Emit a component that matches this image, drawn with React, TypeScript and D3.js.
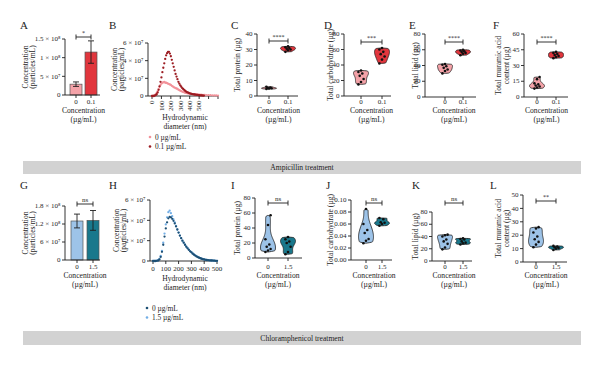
import React from "react";
import * as d3 from "d3";

const FONT = "'Liberation Serif', 'Times New Roman', serif";
const INK = "#1e1e1e";

// categories (µg/mL)
const ampDoses = ["0", "0.1"];
const chlDoses = ["0", "1.5"];

// A / G: particle concentration, mean and error
const ampParticleMean = [2.9e7, 1.15e8];
const ampParticleErr = [0.6e7, 0.3e8];
const chlParticleMean = [1.3e8, 1.32e8];
const chlParticleErr = [0.23e8, 0.33e8];
const ampParticleTicks = [0, 5e7, 1e8, 1.5e8];
const ampParticleTickText = ["0", "5 × 10⁷", "1 × 10⁸", "1.5 × 10⁸"];
const chlParticleTicks = [0, 6e7, 1.2e8, 1.8e8];
const chlParticleTickText = ["0", "6 × 10⁷", "1.2 × 10⁸", "1.8 × 10⁸"];

// B / H: size distribution, in 10^7 particles/mL
const sizeTicks = [0, 2, 4, 6];
const sizeTickText = ["0", "2 × 10⁷", "4 × 10⁷", "6 × 10⁷"];
const ampDiamHigh = [0, 10, 20, 30, 40, 50, 60, 70, 80, 90, 100, 110, 120, 130, 140, 150, 160, 170, 180, 190, 200, 210, 220, 230, 240, 250, 260, 270, 280, 290, 300, 310, 320, 330, 340, 350, 360, 370, 380, 390, 400, 410, 420, 430, 440, 450, 460, 470, 480, 490, 500, 510, 520, 530, 540, 550];
const ampConcHigh = [0, 0, 0, 0.05, 0.1, 0.2, 0.4, 0.7, 1.1, 1.6, 2.1, 2.7, 3.2, 3.7, 4.2, 4.6, 4.85, 5.0, 5.0, 4.8, 4.5, 4.1, 3.7, 3.3, 2.9, 2.5, 2.2, 1.9, 1.6, 1.4, 1.2, 1.05, 0.9, 0.8, 0.7, 0.6, 0.52, 0.45, 0.4, 0.35, 0.3, 0.27, 0.24, 0.21, 0.19, 0.17, 0.15, 0.13, 0.12, 0.1, 0.09, 0.08, 0.07, 0.06, 0.05, 0.04];
const ampDiamLow = [0, 10, 20, 30, 40, 50, 60, 70, 80, 90, 100, 110, 120, 130, 140, 150, 160, 170, 180, 190, 200, 210, 220, 230, 240, 250, 260, 270, 280, 290, 300, 310, 320, 330, 340, 350, 360, 370, 380, 390, 400, 410, 420, 430, 440, 450, 460, 470, 480, 490, 500, 520, 540, 560, 580, 600, 620, 640, 660, 680, 700];
const ampConcLow = [0, 0, 0.05, 0.1, 0.2, 0.35, 0.55, 0.8, 1.05, 1.25, 1.4, 1.5, 1.55, 1.6, 1.5, 1.5, 1.45, 1.4, 1.35, 1.3, 1.25, 1.15, 1.1, 1.0, 0.95, 0.9, 0.85, 0.8, 0.72, 0.66, 0.6, 0.55, 0.5, 0.46, 0.42, 0.38, 0.35, 0.32, 0.3, 0.28, 0.26, 0.24, 0.23, 0.22, 0.21, 0.2, 0.19, 0.18, 0.17, 0.16, 0.15, 0.14, 0.13, 0.12, 0.11, 0.1, 0.09, 0.08, 0.07, 0.06, 0.05];
const chlDiam = [0, 10, 20, 30, 40, 50, 60, 70, 80, 90, 100, 110, 120, 130, 140, 150, 160, 170, 180, 190, 200, 210, 220, 230, 240, 250, 260, 270, 280, 290, 300, 310, 320, 330, 340, 350, 360, 370, 380, 390, 400, 410, 420, 430, 440, 450, 460, 470, 480, 490, 500];
const chlConcZero = [0, 0, 0, 0.02, 0.05, 0.15, 0.4, 0.9, 1.6, 2.4, 3.2, 3.8, 4.2, 4.35, 4.3, 4.15, 3.95, 3.7, 3.4, 3.1, 2.8, 2.5, 2.25, 2.0, 1.8, 1.6, 1.4, 1.25, 1.1, 0.95, 0.85, 0.72, 0.62, 0.53, 0.45, 0.38, 0.32, 0.27, 0.22, 0.18, 0.15, 0.12, 0.1, 0.08, 0.07, 0.06, 0.05, 0.04, 0.03, 0.02, 0.02];
const chlConcDose = [0, 0, 0, 0.03, 0.08, 0.2, 0.5, 1.0, 1.8, 2.7, 3.6, 4.3, 4.8, 4.95, 4.7, 4.4, 4.1, 3.8, 3.45, 3.1, 2.8, 2.5, 2.25, 2.0, 1.8, 1.6, 1.42, 1.27, 1.12, 0.98, 0.86, 0.74, 0.64, 0.55, 0.47, 0.4, 0.34, 0.28, 0.23, 0.19, 0.16, 0.13, 0.11, 0.09, 0.07, 0.06, 0.05, 0.04, 0.03, 0.02, 0.02];

// C-F, I-L: replicate measurements (µg)
const ampProtein0 = [4.5, 4.8, 5.0, 5.2, 5.5, 6.0];
const ampProtein1 = [28.5, 29.5, 30.0, 30.5, 31.0, 31.5, 32.0];
const ampCarb0 = [15, 18, 22, 26, 29, 31, 33];
const ampCarb1 = [42, 47, 51, 54, 57, 60, 62];
const ampLipid0 = [30, 33, 35, 37, 39, 41, 42];
const ampLipid1 = [53, 55, 56, 57, 58, 59, 60];
const ampMuramic0 = [8, 9, 10, 11, 12, 13, 17, 19];
const ampMuramic1 = [37, 38, 39, 40, 41, 42, 43];
const chlProtein0 = [8, 10, 12, 15, 18, 25, 44, 57];
const chlProtein1 = [5, 8, 15, 20, 22, 25, 28];
const chlCarb0 = [0.028, 0.032, 0.035, 0.045, 0.05, 0.06, 0.085];
const chlCarb1 = [0.057, 0.06, 0.062, 0.063, 0.068, 0.07];
const chlLipid0 = [19, 22, 28, 32, 35, 40, 42, 43];
const chlLipid1 = [27, 29, 30, 32, 35, 36, 37];
const chlMuramic0 = [11, 13, 15, 17, 19, 22, 25, 26];
const chlMuramic1 = [9, 10, 10.5, 11, 11.5, 12];

const ampLight = "#f4a2a8";
const ampDark = "#e1363d";
const chlLight = "#9dc3e8";
const chlDark = "#19788c";

const TOP = { tickY: 104, t1: 113, t2: 122, letterY: 29 };
const BOT = { tickY: 269, t1: 278, t2: 287, letterY: 189 };

function YAxis({ x, scale, ticks, labels }: any) {
  const [y0, y1] = scale.range();
  return (
    <g>
      <line x1={x} x2={x} y1={y0} y2={y1} stroke={INK} strokeWidth={0.9} />
      {ticks.map((t: number, i: number) => (
        <g key={i}>
          <line x1={x - 3} x2={x} y1={scale(t)} y2={scale(t)} stroke={INK} strokeWidth={0.9} />
          <text x={x - 4.5} y={scale(t)} dy="0.32em" textAnchor="end" fontSize={7} fill={INK}>
            {labels[i]}
          </text>
        </g>
      ))}
    </g>
  );
}

function YTitle({ xs, cy, lines }: any) {
  return (
    <g>
      {lines.map((l: string, i: number) => (
        <text key={i} transform={`translate(${xs[i]},${cy}) rotate(-90)`} dy="0.35em" textAnchor="middle" fontSize={7.6} fill={INK}>
          {l}
        </text>
      ))}
    </g>
  );
}

function XTitle({ cx, ys, lines }: any) {
  return (
    <g>
      {lines.map((l: string, i: number) => (
        <text key={i} x={cx} y={ys[i]} textAnchor="middle" fontSize={7.6} fill={INK}>
          {l}
        </text>
      ))}
    </g>
  );
}

function Bracket({ x1, x2, y, label }: any) {
  return (
    <g stroke={INK} strokeWidth={0.9}>
      <line x1={x1} x2={x2} y1={y} y2={y} />
      <line x1={x1} x2={x1} y1={y - 2.5} y2={y + 2.5} />
      <line x1={x2} x2={x2} y1={y - 2.5} y2={y + 2.5} />
      <text x={(x1 + x2) / 2} y={y - 2} textAnchor="middle" fontSize={label === "ns" ? 7 : 6} stroke="none" fill={INK}>
        {label}
      </text>
    </g>
  );
}

function CatAxis({ x0, x1, base, x, cats, row }: any) {
  return (
    <g>
      <line x1={x0} x2={x1} y1={base} y2={base} stroke={INK} strokeWidth={0.9} />
      {cats.map((c: string) => (
        <g key={c}>
          <line x1={x(c)} x2={x(c)} y1={base} y2={base + 3} stroke={INK} strokeWidth={0.9} />
          <text x={x(c)} y={row.tickY} textAnchor="middle" fontSize={7} fill={INK}>
            {c}
          </text>
        </g>
      ))}
      <XTitle cx={(x(cats[0]) + x(cats[1])) / 2} ys={[row.t1, row.t2]} lines={["Concentration", "(µg/mL)"]} />
    </g>
  );
}

// kernel density outline of one group, closed at its min and max
function violinShape(vals: number[], n = 36) {
  const lo = d3.min(vals) as number;
  const hi = d3.max(vals) as number;
  const span = hi - lo || 1;
  const bw = span * 0.2;
  const inner = d3.range(1, n).map((i) => lo + (span * i) / n);
  const dens = inner.map((v) => d3.sum(vals, (d) => Math.exp(-0.5 * ((v - d) / bw) ** 2)));
  const m = d3.max(dens) as number;
  return [{ v: lo, w: 0 }, ...inner.map((v, i) => ({ v, w: dens[i] / m })), { v: hi, w: 0 }];
}

function ViolinPanel({ p }: any) {
  const row = p.row;
  const y = d3.scaleLinear().domain(p.domain).range(p.yRange);
  const x = d3.scalePoint<string>().domain(p.cats).range(p.catRange);
  const half = 7.5;
  return (
    <g>
      <text x={p.lx} y={row.letterY} fontSize={11} fill={INK}>{p.letter}</text>
      <YAxis x={p.axisX} scale={y} ticks={p.ticks} labels={p.ticks.map(p.fmt)} />
      <YTitle xs={p.titleX} cy={(p.yRange[0] + p.yRange[1]) / 2} lines={p.title} />
      <CatAxis x0={p.axisX} x1={p.axisEnd} base={p.yRange[0]} x={x} cats={p.cats} row={row} />
      {p.groups.map((vals: number[], gi: number) => {
        const cx = x(p.cats[gi]) as number;
        const shape = violinShape(vals);
        const area = d3
          .area<any>()
          .y((d) => y(d.v))
          .x0((d) => cx - d.w * half)
          .x1((d) => cx + d.w * half)
          .curve(d3.curveBasis);
        return (
          <g key={gi}>
            <path d={area(shape) as string} fill={p.fills[gi]} stroke={INK} strokeWidth={0.8} />
            {vals.map((v, i) => (
              <circle key={i} cx={cx + (((i * 7) % 5) - 2) * 1.3} cy={y(v)} r={1.3} fill="#111" />
            ))}
          </g>
        );
      })}
      <Bracket x1={x(p.cats[0])} x2={x(p.cats[1])} y={p.bracketY} label={p.stars} />
    </g>
  );
}

function BarPanel({ p }: any) {
  const row = p.row;
  const y = d3.scaleLinear().domain(p.domain).range(p.yRange);
  const x = d3.scalePoint<string>().domain(p.cats).range(p.catRange);
  const bw = 12;
  return (
    <g>
      <text x={p.lx} y={row.letterY} fontSize={11} fill={INK}>{p.letter}</text>
      <YAxis x={p.axisX} scale={y} ticks={p.ticks} labels={p.tickText} />
      <YTitle xs={[25, 32]} cy={(p.yRange[0] + p.yRange[1]) / 2} lines={["Concentration", "(particles/mL)"]} />
      {p.mean.map((m: number, i: number) => {
        const cx = x(p.cats[i]) as number;
        return (
          <g key={i}>
            <rect x={cx - bw / 2} y={y(m)} width={bw} height={y(0) - y(m)} fill={p.fills[i]} stroke="#555" strokeWidth={0.7} />
            <g stroke={INK} strokeWidth={0.9}>
              <line x1={cx} x2={cx} y1={y(m - p.err[i])} y2={y(m + p.err[i])} />
              <line x1={cx - 3} x2={cx + 3} y1={y(m + p.err[i])} y2={y(m + p.err[i])} />
              <line x1={cx - 3} x2={cx + 3} y1={y(m - p.err[i])} y2={y(m - p.err[i])} />
            </g>
          </g>
        );
      })}
      <CatAxis x0={p.axisX} x1={p.axisEnd} base={p.yRange[0]} x={x} cats={p.cats} row={row} />
      <Bracket x1={x(p.cats[0])} x2={x(p.cats[1])} y={p.bracketY} label={p.stars} />
    </g>
  );
}

function SizePanel({ p }: any) {
  const row = p.row;
  const y = d3.scaleLinear().domain([0, 6]).range(p.yRange);
  const x = d3.scaleLinear().domain(p.xDomain).range(p.xRange);
  const base = p.yRange[0];
  return (
    <g>
      <text x={p.lx} y={row.letterY} fontSize={11} fill={INK}>{p.letter}</text>
      <YAxis x={p.axisX} scale={y} ticks={sizeTicks} labels={sizeTickText} />
      <YTitle xs={[p.axisX - 34, p.axisX - 27]} cy={(p.yRange[0] + p.yRange[1]) / 2} lines={["Concentration", "(particles/mL)"]} />
      <line x1={p.axisX} x2={p.xRange[1]} y1={base} y2={base} stroke={INK} strokeWidth={0.9} />
      {p.xTicks.map((t: number) => (
        <g key={t}>
          <line x1={x(t)} x2={x(t)} y1={base} y2={base + 3} stroke={INK} strokeWidth={0.9} />
          {t <= 500 &&
            (p.rotate ? (
              <text transform={`translate(${x(t)},${base + 4.5}) rotate(-90)`} dy="0.32em" textAnchor="end" fontSize={7} fill={INK}>
                {t}
              </text>
            ) : (
              <text x={x(t)} y={base + 10} textAnchor="middle" fontSize={7} fill={INK}>
                {t}
              </text>
            ))}
        </g>
      ))}
      <XTitle cx={p.titleCx} ys={p.titleYs} lines={["Hydrodynamic", "diameter (nm)"]} />
      {p.series.map((s: any, si: number) => (
        <g key={si}>
          {s.d.map((d: number, i: number) => (
            <circle key={i} cx={x(d)} cy={y(s.v[i])} r={1.15} fill={s.color} />
          ))}
        </g>
      ))}
      {p.legend.map((s: any, i: number) => (
        <g key={i}>
          <circle cx={p.legX} cy={p.legY + i * 9.5} r={1.3} fill={s.color} />
          <text x={p.legX + 5} y={p.legY + i * 9.5} dy="0.35em" fontSize={7.4} fill={INK}>
            {s.label}
          </text>
        </g>
      ))}
    </g>
  );
}

function Band({ y, h, label }: any) {
  return (
    <g>
      <rect x={23} y={y} width={558} height={h} fill="#d2d2d2" />
      <text x={302} y={y + h / 2} dy="0.35em" textAnchor="middle" fontSize={7.6} fill={INK}>
        {label}
      </text>
    </g>
  );
}

const fmtInt = d3.format("d");
const fmt2 = d3.format(".2f");

const barPanels = [
  { letter: "A", lx: 20, row: TOP, cats: ampDoses, mean: ampParticleMean, err: ampParticleErr, fills: [ampLight, ampDark], domain: [0, 1.5e8], ticks: ampParticleTicks, tickText: ampParticleTickText, axisX: 65, axisEnd: 100, catRange: [76, 91], yRange: [95, 39], bracketY: 37, stars: "*" },
  { letter: "G", lx: 20, row: BOT, cats: chlDoses, mean: chlParticleMean, err: chlParticleErr, fills: [chlLight, chlDark], domain: [0, 1.8e8], ticks: chlParticleTicks, tickText: chlParticleTickText, axisX: 65, axisEnd: 100, catRange: [77, 93], yRange: [260, 206], bracketY: 204, stars: "ns" },
];

const sizePanels = [
  {
    letter: "B", lx: 109, row: TOP, axisX: 148, xDomain: [0, 700], xRange: [152, 218], xTicks: [0, 100, 200, 300, 400, 500, 600, 700], rotate: true,
    yRange: [96, 43], titleCx: 185, titleYs: [120, 129], legX: 150, legY: 137,
    series: [{ d: ampDiamLow, v: ampConcLow, color: "#f2929a" }, { d: ampDiamHigh, v: ampConcHigh, color: "#9c1c22" }],
    legend: [{ label: "0 µg/mL", color: "#f2929a" }, { label: "0.1 µg/mL", color: "#9c1c22" }],
  },
  {
    letter: "H", lx: 109, row: BOT, axisX: 150, xDomain: [0, 500], xRange: [153, 217], xTicks: [0, 100, 200, 300, 400, 500], rotate: false,
    yRange: [261, 200], titleCx: 185, titleYs: [281, 290], legX: 147, legY: 308,
    series: [{ d: chlDiam, v: chlConcDose, color: "#72aee6" }, { d: chlDiam, v: chlConcZero, color: "#1d4f73" }],
    legend: [{ label: "0 µg/mL", color: "#1d4f73" }, { label: "1.5 µg/mL", color: "#72aee6" }],
  },
];

const violinPanels = [
  { letter: "C", lx: 231, row: TOP, cats: ampDoses, groups: [ampProtein0, ampProtein1], fills: [ampLight, ampDark], domain: [0, 40], ticks: [0, 10, 20, 30, 40], fmt: fmtInt, axisX: 257, axisEnd: 298, catRange: [269, 288], yRange: [96, 34], title: ["Total protein (µg)"], titleX: [237], stars: "****", bracketY: 41 },
  { letter: "D", lx: 324, row: TOP, cats: ampDoses, groups: [ampCarb0, ampCarb1], fills: [ampLight, ampDark], domain: [0, 80], ticks: [0, 20, 40, 60, 80], fmt: fmtInt, axisX: 344, axisEnd: 391, catRange: [361, 382], yRange: [96, 34], title: ["Total carbohydrate (µg)"], titleX: [330], stars: "***", bracketY: 42 },
  { letter: "E", lx: 409, row: TOP, cats: ampDoses, groups: [ampLipid0, ampLipid1], fills: [ampLight, ampDark], domain: [0, 80], ticks: [0, 20, 40, 60, 80], fmt: fmtInt, axisX: 425, axisEnd: 476, catRange: [445, 463], yRange: [97, 34], title: ["Total lipid (µg)"], titleX: [415], stars: "****", bracketY: 42 },
  { letter: "F", lx: 493, row: TOP, cats: ampDoses, groups: [ampMuramic0, ampMuramic1], fills: [ampLight, ampDark], domain: [0, 60], ticks: [0, 15, 30, 45, 60], fmt: fmtInt, axisX: 524, axisEnd: 568, catRange: [537, 556], yRange: [97, 34], title: ["Total muramic acid", "content (µg)"], titleX: [498, 506], stars: "****", bracketY: 42 },
  { letter: "I", lx: 231, row: BOT, cats: chlDoses, groups: [chlProtein0, chlProtein1], fills: [chlLight, chlDark], domain: [0, 80], ticks: [0, 20, 40, 60, 80], fmt: fmtInt, axisX: 255, axisEnd: 302, catRange: [268, 288], yRange: [258, 198], title: ["Total protein (µg)"], titleX: [237], stars: "ns", bracketY: 203 },
  { letter: "J", lx: 326, row: BOT, cats: chlDoses, groups: [chlCarb0, chlCarb1], fills: [chlLight, chlDark], domain: [0, 0.1], ticks: [0, 0.02, 0.04, 0.06, 0.08, 0.1], fmt: fmt2, axisX: 351, axisEnd: 392, catRange: [366, 382], yRange: [260, 200], title: ["Total carbohydrate (µg)"], titleX: [330], stars: "ns", bracketY: 203 },
  { letter: "K", lx: 412, row: BOT, cats: chlDoses, groups: [chlLipid0, chlLipid1], fills: [chlLight, chlDark], domain: [0, 80], ticks: [0, 20, 40, 60, 80], fmt: fmtInt, axisX: 432, axisEnd: 472, catRange: [445, 463], yRange: [261, 212], title: ["Total lipid (µg)"], titleX: [415], stars: "ns", bracketY: 203 },
  { letter: "L", lx: 490, row: BOT, cats: chlDoses, groups: [chlMuramic0, chlMuramic1], fills: [chlLight, chlDark], domain: [0, 50], ticks: [0, 10, 20, 30, 40, 50], fmt: fmtInt, axisX: 523, axisEnd: 567, catRange: [536, 556], yRange: [262, 195], title: ["Total muramic acid", "content (µg)"], titleX: [498, 506], stars: "**", bracketY: 201 },
];

export default function App() {
  return (
    <svg width={600} height={367} viewBox="0 0 600 367" fontFamily={FONT} style={{ position: "absolute", left: 0, top: 0 }}>
      <rect width={600} height={367} fill="#fff" />
      {barPanels.map((p) => <BarPanel key={p.letter} p={p} />)}
      {sizePanels.map((p) => <SizePanel key={p.letter} p={p} />)}
      {violinPanels.map((p) => <ViolinPanel key={p.letter} p={p} />)}
      <Band y={161} h={13} label="Ampicillin treatment" />
      <Band y={331} h={14} label="Chloramphenicol treatment" />
    </svg>
  );
}
